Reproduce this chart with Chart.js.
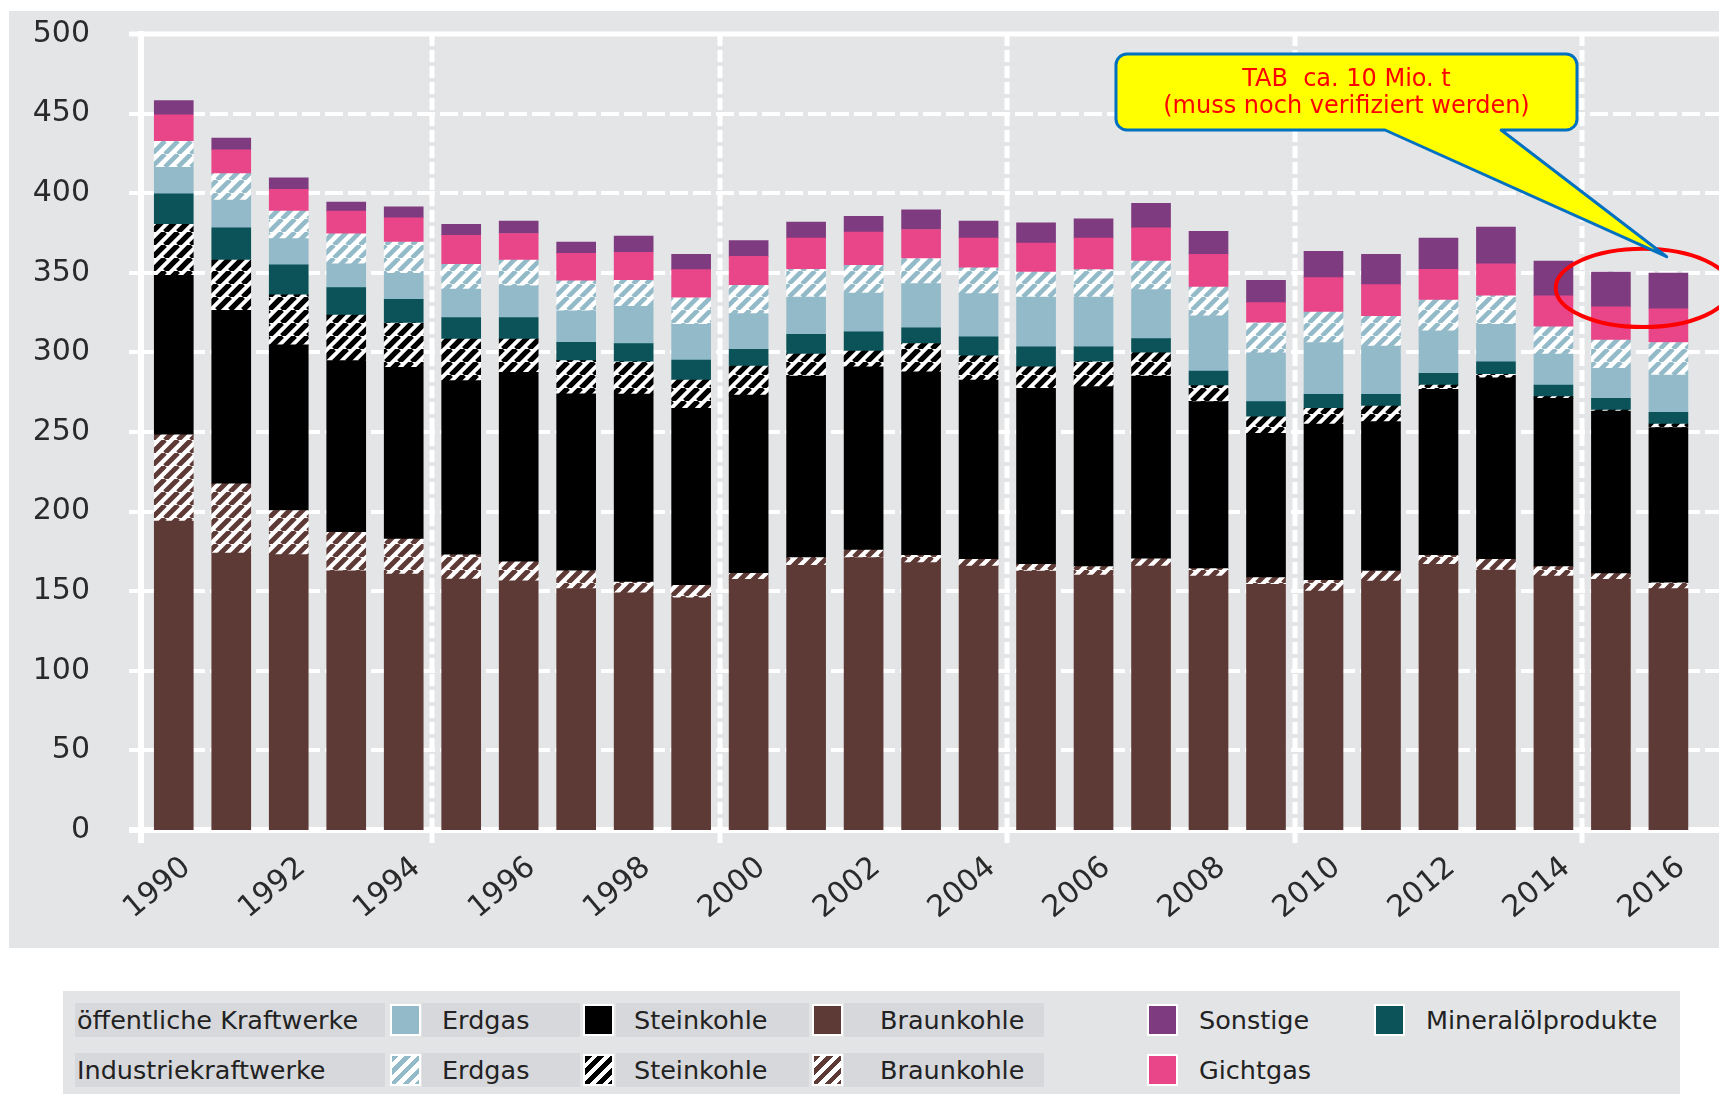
<!DOCTYPE html>
<html lang="de">
<head>
<meta charset="UTF-8">
<title>Emissionen der Kraftwerke 1990-2016</title>
<script src="https://cdn.jsdelivr.net/npm/chart.js"></script>
<style>
  body { margin: 0; background: #fff; width: 1719px; height: 1094px; position: relative; overflow: hidden; font-family: 'DejaVu Sans', sans-serif; }
  .panel { position: absolute; left: 9px; top: 11px; width: 1710px; height: 937px; background: #e4e5e7; }
  .panel canvas { display: block; }
  .legende { position: absolute; left: 63px; top: 991px; width: 1617px; height: 103px; background: #e3e4e6; color: #222; font-size: 25.5px; }
  .zelle { position: absolute; height: 34px; line-height: 34px; white-space: nowrap; box-sizing: border-box; }
  .dunkel { background: #d7d8dc; }
  .kasten { position: absolute; width: 31px; height: 32px; border: 2px solid #fff; box-sizing: border-box; }
  .r1 { top: 12px; }
  .r2 { top: 62px; }
  .k1 { top: 13px; }
  .k2 { top: 63px; }
</style>
</head>
<body>
<div class="panel"><canvas id="grafik" width="1710" height="937"></canvas></div>

<div class="legende">
  <div class="zelle dunkel r1" style="left:12px;width:310px;padding-left:2px">öffentliche Kraftwerke</div>
  <div class="zelle dunkel r2" style="left:12px;width:310px;padding-left:2px">Industriekraftwerke</div>

  <div class="kasten k1" style="left:327px;background:#93bac8"></div>
  <div class="kasten k2" style="left:327px;background:repeating-linear-gradient(135deg,#93bac8 0 4.5px,#fff 4.5px 9px)"></div>
  <div class="zelle dunkel r1" style="left:359px;width:158px;padding-left:20px">Erdgas</div>
  <div class="zelle dunkel r2" style="left:359px;width:158px;padding-left:20px">Erdgas</div>

  <div class="kasten k1" style="left:520px;background:#000"></div>
  <div class="kasten k2" style="left:520px;background:repeating-linear-gradient(135deg,#000 0 5px,#fff 5px 9px)"></div>
  <div class="zelle dunkel r1" style="left:553px;width:193px;padding-left:18px">Steinkohle</div>
  <div class="zelle dunkel r2" style="left:553px;width:193px;padding-left:18px">Steinkohle</div>

  <div class="kasten k1" style="left:749px;background:#5e3a36"></div>
  <div class="kasten k2" style="left:749px;background:repeating-linear-gradient(135deg,#5e3a36 0 4.5px,#fff 4.5px 9px)"></div>
  <div class="zelle dunkel r1" style="left:781px;width:200px;padding-left:36px">Braunkohle</div>
  <div class="zelle dunkel r2" style="left:781px;width:200px;padding-left:36px">Braunkohle</div>

  <div class="kasten k1" style="left:1084px;background:#7f3b80"></div>
  <div class="kasten k2" style="left:1084px;background:#e9468a"></div>
  <div class="zelle r1" style="left:1136px">Sonstige</div>
  <div class="zelle r2" style="left:1136px">Gichtgas</div>

  <div class="kasten k1" style="left:1311px;background:#0b5358"></div>
  <div class="zelle r1" style="left:1363px">Mineralölprodukte</div>
</div>

<script>
// Jahre und Werte (Mio. t), von unten nach oben gestapelt
const jahre = [1990, 1991, 1992, 1993, 1994, 1995, 1996, 1997, 1998, 1999, 2000, 2001, 2002, 2003,
               2004, 2005, 2006, 2007, 2008, 2009, 2010, 2011, 2012, 2013, 2014, 2015, 2016];
const braunkohle = [194, 174, 173, 162.8, 160.7, 157.6, 156.5, 151.7, 149, 145.9, 157.4, 166.2, 171.1, 167.9,
                    165.8, 162.7, 160.2, 165.8, 159.5, 154.3, 150.1, 156.4, 166.9, 163.3, 159.5, 157.4, 151.6];
const braunkohleInd = [54.3, 43.4, 27.7, 24.2, 22.1, 15.3, 12, 11.1, 6.7, 7.8, 3.8, 4.9, 4.8, 4.6,
                       4.2, 4.2, 5.2, 4.6, 4.7, 4.2, 6.7, 6.3, 5.6, 6.7, 5.9, 3.6, 3.7];
const steinkohle = [100.1, 109.1, 104, 107.8, 107.8, 109.4, 119, 111.1, 118.1, 111.2, 112, 114, 115.1, 115.3,
                    112.6, 110.5, 113.1, 114.7, 104.9, 90.7, 98.2, 93.8, 104.3, 114.1, 105.7, 102.2, 97.5];
const steinkohleInd = [32, 31.5, 31.5, 28.6, 27.8, 26.1, 20.9, 20.9, 20.2, 17.7, 18.2, 13.8, 9.8, 17.8,
                       15.3, 13.6, 15.6, 14.6, 10, 10.4, 9.9, 9.8, 2.7, 2.1, 1.1, 0.6, 2.2];
const mineraloel = [19.2, 20.3, 18.8, 17.3, 15, 13.5, 13.5, 11.5, 11.5, 12.6, 10.6, 12.5, 12.1, 9.8,
                    11.9, 12.5, 9.4, 9, 9.2, 9.5, 8.7, 7.3, 7.3, 7.9, 7.3, 7.3, 7.4];
const erdgas = [16.7, 17.3, 16.5, 15, 16.3, 17.8, 19.9, 19.8, 23.4, 22.5, 22.4, 23.4, 24.4, 27.8,
                27.1, 31.3, 31.3, 30.7, 34.6, 30.6, 32.6, 30.3, 26.8, 23.6, 19.4, 18.9, 23.4];
const erdgasInd = [16.3, 16.7, 17.3, 18.8, 19.6, 15.6, 16.2, 18.8, 16.3, 16.5, 17.7, 17.4, 17.4, 15.7,
                   16.3, 15.7, 17.2, 18, 18.2, 18.8, 19.2, 18.8, 19.2, 17.8, 17.1, 17.7, 20.4];
const gichtgas = [16.7, 15, 13.6, 14.2, 15.3, 18.2, 16.7, 17.3, 17.7, 17.8, 18.2, 19.6, 20.9, 18.3,
                  18.6, 18.2, 19.8, 20.9, 20.5, 12.8, 21.6, 19.9, 19.4, 20.2, 19.5, 20.9, 21.2];
const sonstige = [8.9, 7.4, 7.3, 5.7, 6.8, 6.9, 7.8, 7.1, 10.1, 9.6, 10, 10, 9.8, 12.4,
                  10.7, 12.7, 12.1, 15.4, 14.4, 14, 16.5, 19, 19.6, 23, 21.9, 21.9, 22.4];
const beschriftung = [1990, 1992, 1994, 1996, 1998, 2000, 2002, 2004, 2006, 2008, 2010, 2012, 2014, 2016];
const trennlinien = [1994.5, 1999.5, 2004.5, 2009.5, 2014.5];

// Hinweis-Sprechblase und Kreis (in Achsenwerten)
const blase = { x0: 2006.39, x1: 2014.41, y0: 487.4, y1: 439.7, fussL: 2011.07, fussR: 2013.09, spitzeX: 2015.97, spitzeY: 360.1 };
const kreis = { x: 2015.56, y: 340.5, rx: 1.52, ry: 24.6 };

// Schraffur fuer Industriekraftwerke
function schraffur(farbe, breite) {
    const s = 13;
    const c = document.createElement('canvas');
    c.width = s; c.height = s;
    const g = c.getContext('2d');
    g.fillStyle = '#fff';
    g.fillRect(0, 0, s, s);
    g.strokeStyle = farbe;
    g.lineWidth = breite;
    g.beginPath();
    for (let k = -1; k <= 1; k++) {
        g.moveTo(k * s, s);
        g.lineTo(k * s + s, 0);
    }
    g.stroke();
    return g.createPattern(c, 'repeat');
}

const gitter = {
    id: 'gitter',
    beforeDatasetsDraw(chart) {
        const { ctx, chartArea: a, scales: { x, y } } = chart;
        ctx.save();
        ctx.strokeStyle = '#fff';
        const oben = y.getPixelForValue(500);
        const unten = y.getPixelForValue(0);
        y.ticks.forEach(t => {
            const py = Math.round(y.getPixelForValue(t.value));
            if (t.value === 0 || t.value === 500) return;
            ctx.lineWidth = 4;
            ctx.setLineDash([]);
            ctx.beginPath(); ctx.moveTo(a.left - 12, py); ctx.lineTo(a.left, py); ctx.stroke();
            ctx.setLineDash([18, 5]);
            ctx.beginPath(); ctx.moveTo(a.left, py); ctx.lineTo(a.right, py); ctx.stroke();
        });
        trennlinien.forEach(v => {
            const px = Math.round(x.getPixelForValue(v));
            ctx.lineWidth = 5;
            ctx.setLineDash([12, 4]);
            ctx.beginPath(); ctx.moveTo(px, oben); ctx.lineTo(px, unten); ctx.stroke();
            ctx.setLineDash([]);
            ctx.beginPath(); ctx.moveTo(px, unten); ctx.lineTo(px, unten + 13); ctx.stroke();
        });
        ctx.setLineDash([]);
        ctx.lineWidth = 5;
        ctx.beginPath(); ctx.moveTo(a.left - 12, oben); ctx.lineTo(a.right, oben); ctx.stroke();
        ctx.lineWidth = 6;
        ctx.beginPath(); ctx.moveTo(a.left - 12, unten); ctx.lineTo(a.right, unten); ctx.stroke();
        ctx.beginPath(); ctx.moveTo(a.left, oben - 3); ctx.lineTo(a.left, unten + 13); ctx.stroke();
        ctx.restore();
    }
};

const hinweis = {
    id: 'hinweis',
    afterDatasetsDraw(chart) {
        const { ctx, scales: { x, y } } = chart;
        ctx.save();
        const ex = x.getPixelForValue(kreis.x), ey = y.getPixelForValue(kreis.y);
        const rx = x.getPixelForValue(kreis.x + kreis.rx) - ex;
        const ry = ey - y.getPixelForValue(kreis.y + kreis.ry);
        ctx.beginPath();
        ctx.ellipse(ex, ey, rx, ry, 0, 0, 2 * Math.PI);
        ctx.lineWidth = 4;
        ctx.strokeStyle = '#ff0000';
        ctx.stroke();

        const l = x.getPixelForValue(blase.x0), r = x.getPixelForValue(blase.x1);
        const t = y.getPixelForValue(blase.y0), b = y.getPixelForValue(blase.y1);
        const fl = x.getPixelForValue(blase.fussL), fr = x.getPixelForValue(blase.fussR);
        const sx = x.getPixelForValue(blase.spitzeX), sy = y.getPixelForValue(blase.spitzeY);
        const rad = 11;
        ctx.beginPath();
        ctx.moveTo(l + rad, t);
        ctx.lineTo(r - rad, t); ctx.arcTo(r, t, r, t + rad, rad);
        ctx.lineTo(r, b - rad); ctx.arcTo(r, b, r - rad, b, rad);
        ctx.lineTo(fr, b); ctx.lineTo(sx, sy); ctx.lineTo(fl, b);
        ctx.lineTo(l + rad, b); ctx.arcTo(l, b, l, b - rad, rad);
        ctx.lineTo(l, t + rad); ctx.arcTo(l, t, l + rad, t, rad);
        ctx.closePath();
        ctx.fillStyle = '#ffff00';
        ctx.fill();
        ctx.lineWidth = 3;
        ctx.lineJoin = 'round';
        ctx.strokeStyle = '#0070c0';
        ctx.stroke();

        ctx.fillStyle = '#ff0000';
        ctx.font = '24px "DejaVu Sans"';
        ctx.textAlign = 'center';
        ctx.textBaseline = 'middle';
        const mx = (l + r) / 2;
        ctx.fillText('TAB  ca. 10 Mio. t', mx, t + 26);
        ctx.fillText('(muss noch verifiziert werden)', mx, t + 53);
        ctx.restore();
    }
};

function reihe(label, werte, farbe) {
    return { label: label, data: werte, backgroundColor: farbe, borderWidth: 0, barThickness: 39 };
}

Chart.defaults.font.family = "'DejaVu Sans', sans-serif";

new Chart(document.getElementById('grafik'), {
    type: 'bar',
    data: {
        labels: jahre,
        datasets: [
            reihe('Braunkohle (öffentliche Kraftwerke)', braunkohle, '#5e3a36'),
            reihe('Braunkohle (Industriekraftwerke)', braunkohleInd, schraffur('#5e3a36', 5)),
            reihe('Steinkohle (öffentliche Kraftwerke)', steinkohle, '#000000'),
            reihe('Steinkohle (Industriekraftwerke)', steinkohleInd, schraffur('#000000', 5.4)),
            reihe('Mineralölprodukte', mineraloel, '#0b5358'),
            reihe('Erdgas (öffentliche Kraftwerke)', erdgas, '#93bac8'),
            reihe('Erdgas (Industriekraftwerke)', erdgasInd, schraffur('#93bac8', 4.6)),
            reihe('Gichtgas', gichtgas, '#e9468a'),
            reihe('Sonstige', sonstige, '#7f3b80')
        ]
    },
    options: {
        responsive: false,
        animation: false,
        layout: { padding: { top: 23, right: 0, left: 0, bottom: 0 } },
        plugins: { legend: { display: false }, tooltip: { enabled: false } },
        scales: {
            x: {
                type: 'linear',
                stacked: true,
                offset: false,
                min: 1989.43,
                max: 2016.88,
                grid: { display: false, drawTicks: false, offset: false },
                border: { display: false },
                afterBuildTicks: s => { s.ticks = beschriftung.map(v => ({ value: v })); },
                afterFit: s => { s.height = 118; },
                ticks: {
                    autoSkip: false,
                    minRotation: 40,
                    maxRotation: 40,
                    padding: 20,
                    labelOffset: 13,
                    color: '#2a2a2a',
                    font: { size: 30 },
                    callback: v => String(v)
                }
            },
            y: {
                stacked: true,
                min: 0,
                max: 500,
                grid: { display: false, drawTicks: false },
                border: { display: false },
                afterFit: s => { s.width = 132; s.paddingTop = 10; s.paddingBottom = 10; },
                ticks: {
                    stepSize: 50,
                    padding: 51,
                    color: '#2a2a2a',
                    font: { size: 30 }
                }
            }
        }
    },
    plugins: [gitter, hinweis]
});
</script>
</body>
</html>
